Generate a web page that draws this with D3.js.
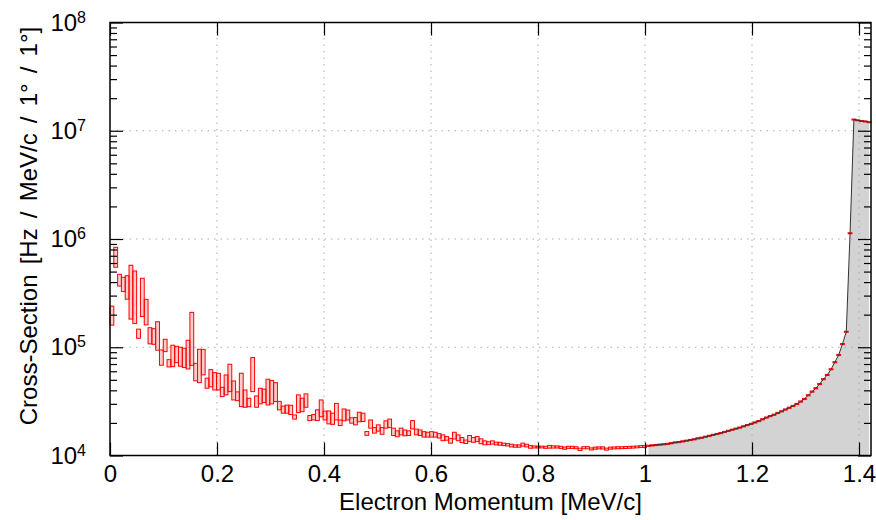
<!DOCTYPE html>
<meta charset="utf-8">
<style>
body { margin: 0; background: #fff; }
text { font-family: "Liberation Sans", sans-serif; }
</style>
<svg width="876" height="520"></svg>
<script src="https://d3js.org/d3.v7.min.js"></script>
<script>

// 200 bins from 0 to the end point of the spectrum
var pMax = 1.4224,
    binWidth = pMax / 200;

// measured cross-section per bin and its error (Hz / MeV/c / 1deg / 1deg)
var counts = [
  2.0e5, 6.93e5, 4.2e5, 3.85e5, 3.68e5, 3.77e5, 3.36e5, 1.34e5, 3.13e5, 2.19e5,
  1.295e5, 1.275e5, 1.33e5, 8.13e4, 1.048e5, 7.13e4, 8.53e4, 8.71e4, 8.34e4, 8.14e4,
  8.95e4, 1.39e5, 6.0e4, 7.15e4, 7.56e4, 4.68e4, 5.26e4, 4.93e4, 4.89e4, 3.885e4,
  4.59e4, 5.43e4, 4.07e4, 3.54e4, 4.29e4, 3.41e4, 3.10e4, 5.96e4, 3.17e4, 3.59e4,
  3.59e4, 4.0e4, 3.96e4, 3.93e4, 2.9e4, 2.66e4, 2.69e4, 2.65e4, 2.27e4, 3.06e4,
  2.96e4, 3.25e4, 2.22e4, 2.26e4, 2.37e4, 2.77e4, 2.35e4, 2.27e4, 2.2e4, 2.58e4,
  2.01e4, 2.39e4, 2.38e4, 2.11e4, 2.08e4, 2.28e4, 2.26e4, 1.6e4, 1.96e4, 1.71e4,
  1.8e4, 1.69e4, 1.94e4, 1.99e4, 1.66e4, 1.59e4, 1.67e4, 1.62e4, 1.61e4, 1.93e4,
  1.655e4, 1.625e4, 1.57e4, 1.56e4, 1.57e4, 1.56e4, 1.52e4, 1.46e4, 1.44e4, 1.37e4,
  1.53e4, 1.46e4, 1.39e4, 1.34e4, 1.44e4, 1.395e4, 1.42e4, 1.355e4, 1.31e4, 1.30e4,
  1.32e4, 1.29e4, 1.285e4, 1.267e4, 1.257e4, 1.235e4, 1.223e4, 1.223e4, 1.26e4, 1.235e4,
  1.20e4, 1.20e4, 1.197e4, 1.197e4, 1.19e4, 1.205e4, 1.20e4, 1.20e4, 1.19e4, 1.17e4,
  1.19e4, 1.19e4, 1.18e4, 1.14e4, 1.18e4, 1.18e4, 1.15e4, 1.17e4, 1.175e4, 1.175e4,
  1.145e4, 1.17e4, 1.175e4, 1.18e4, 1.18e4, 1.185e4, 1.19e4, 1.195e4, 1.20e4, 1.21e4,
  1.21e4, 1.23e4, 1.24e4, 1.25e4, 1.26e4, 1.27e4, 1.28e4, 1.30e4, 1.32e4, 1.33e4,
  1.35e4, 1.37e4, 1.39e4, 1.41e4, 1.44e4, 1.46e4, 1.49e4, 1.52e4, 1.55e4, 1.58e4,
  1.61e4, 1.65e4, 1.69e4, 1.73e4, 1.77e4, 1.81e4, 1.86e4, 1.91e4, 1.96e4, 2.02e4,
  2.08e4, 2.16e4, 2.24e4, 2.31e4, 2.38e4, 2.47e4, 2.56e4, 2.66e4, 2.76e4, 2.87e4,
  2.99e4, 3.15e4, 3.33e4, 3.60e4, 3.89e4, 4.18e4, 4.58e4, 5.07e4, 5.55e4, 6.26e4,
  7.27e4, 8.49e4, 1.07e5, 1.39e5, 1.13e6, 1.27e7, 1.25e7, 1.23e7, 1.22e7, 1.20e7
];

var errors = [
  4.0e4, 1.45e5, 5.2e4, 5.8e4, 9.0e4, 1.95e5, 1.70e5, 1.3e4, 1.21e5, 5.8e4,
  2.2e4, 2.1e4, 3.9e4, 1.31e4, 1.37e4, 5.5e3, 1.91e4, 1.50e4, 1.66e4, 1.65e4,
  2.65e4, 7.1e4, 1.1e4, 2.44e4, 2.0e4, 5.0e3, 9.5e3, 9.0e3, 8.6e3, 3.85e3,
  9.6e3, 1.54e4, 8.1e3, 3.3e3, 1.46e4, 6.2e3, 2.8e3, 2.07e4, 3.8e3, 5.9e3,
  5.1e3, 1.07e4, 9.6e3, 7.8e3, 2.6e3, 2.0e3, 2.3e3, 2.6e3, 1.0e3, 5.7e3,
  4.2e3, 4.6e3, 1.2e3, 1.3e3, 2.7e3, 4.9e3, 2.2e3, 3.1e3, 2.6e3, 4.5e3,
  1.2e3, 3.0e3, 2.5e3, 1.2e3, 1.6e3, 2.3e3, 2.0e3, 650, 1.7e3, 1.0e3,
  1.2e3, 1.2e3, 1.5e3, 1.8e3, 1.3e3, 1.0e3, 1.2e3, 1.0e3, 800, 1.7e3,
  1.0e3, 950, 900, 800, 900, 800, 700, 900, 550, 700,
  1.1e3, 900, 750, 500, 900, 700, 750, 700, 550, 400,
  450, 370, 400, 330, 310, 350, 300, 300, 400, 350,
  330, 250, 220, 220, 250, 350, 280, 260, 270, 280,
  260, 270, 250, 280, 260, 270, 250, 260, 250, 260,
  250, 250, 240, 250, 240, 240, 230, 240, 230, 230,
  230, 150, 150, 150, 150, 160, 160, 160, 160, 160,
  170, 170, 170, 170, 180, 180, 180, 190, 190, 190,
  200, 200, 210, 210, 220, 220, 230, 230, 240, 250,
  260, 270, 280, 290, 300, 310, 320, 340, 350, 370,
  390, 410, 430, 460, 490, 520, 560, 610, 660, 730,
  820, 940, 1.2e3, 1.5e3, 1.2e4, 1.2e5, 1.2e5, 1.2e5, 1.2e5, 1.2e5
];

// prediction, starting at bin 141
var theoryFirstBin = 141;
var theory = [
  1.23e4, 1.24e4, 1.25e4, 1.26e4, 1.27e4, 1.28e4, 1.30e4, 1.32e4, 1.33e4, 1.35e4,
  1.37e4, 1.39e4, 1.41e4, 1.44e4, 1.46e4, 1.49e4, 1.52e4, 1.55e4, 1.58e4, 1.61e4,
  1.65e4, 1.69e4, 1.73e4, 1.77e4, 1.81e4, 1.86e4, 1.91e4, 1.96e4, 2.02e4, 2.08e4,
  2.16e4, 2.24e4, 2.31e4, 2.38e4, 2.47e4, 2.56e4, 2.66e4, 2.76e4, 2.87e4, 2.99e4,
  3.15e4, 3.33e4, 3.60e4, 3.89e4, 4.18e4, 4.58e4, 5.07e4, 5.55e4, 6.26e4, 7.27e4,
  8.49e4, 1.07e5, 1.39e5, 1.13e6, 1.27e7, 1.25e7, 1.23e7, 1.22e7, 1.20e7
];

var xTicks = [0, 0.2, 0.4, 0.6, 0.8, 1.0, 1.2, 1.4];
var xTickLabels = ["0", "0.2", "0.4", "0.6", "0.8", "1", "1.2", "1.4"];
var yDecades = [4, 5, 6, 7, 8];

var svg = d3.select("svg"),
    plotLeft = 110, plotRight = 871, plotTop = 22.5, plotBottom = 455.5;

var x = d3.scaleLinear().domain([0, pMax]).range([plotLeft, plotRight]);
var y = d3.scaleLog().domain([1e4, 1e8]).range([plotBottom, plotTop]);

var majorY = yDecades.map(function(d) { return Math.pow(10, d); });
var minorY = [];
yDecades.slice(0, -1).forEach(function(d) {
  for (var k = 2; k < 10; k++) minorY.push(k * Math.pow(10, d));
});

// theory: filled area under the curve
var tpts = theory.map(function(v, i) {
  return { p: (theoryFirstBin + i + 0.5) * binWidth, v: v };
});

svg.append("path")
    .datum(tpts)
    .attr("fill", "#d3d3d3")
    .attr("d", d3.area()
        .x(function(d) { return x(d.p); })
        .y0(plotBottom)
        .y1(function(d) { return y(d.v); }));

// grid
var grid = svg.append("g")
    .attr("stroke", "#aaa")
    .attr("stroke-width", 1)
    .attr("stroke-dasharray", "1.5,5");

grid.selectAll("line.gx")
  .data(xTicks.slice(1))
  .enter().append("line")
    .attr("x1", function(d) { return x(d); })
    .attr("x2", function(d) { return x(d); })
    .attr("y1", plotBottom)
    .attr("y2", plotTop);

grid.selectAll("line.gy")
  .data(majorY.slice(1, -1))
  .enter().append("line")
    .attr("x1", plotLeft)
    .attr("x2", plotRight)
    .attr("y1", function(d) { return y(d); })
    .attr("y2", function(d) { return y(d); });

// data boxes: bin width x (value +- error)
svg.append("g")
  .selectAll("rect")
  .data(counts)
  .enter().append("rect")
    .attr("x", function(d, i) { return x(i * binWidth); })
    .attr("width", function(d, i) { return x((i + 1) * binWidth) - x(i * binWidth); })
    .attr("y", function(d, i) { return y(d + errors[i]); })
    .attr("height", function(d, i) { return Math.max(1, y(d - errors[i]) - y(d + errors[i])); })
    .attr("fill", "rgba(255,0,0,0.2)")
    .attr("stroke", "#f00")
    .attr("stroke-width", 1);

// theory line over the data
svg.append("path")
    .datum(tpts)
    .attr("fill", "none")
    .attr("stroke", "#333")
    .attr("stroke-width", 1)
    .attr("d", d3.line()
        .x(function(d) { return x(d.p); })
        .y(function(d) { return y(d.v); }));

// axes
function styleAxis(g) {
  g.select(".domain").remove();
  g.selectAll(".tick line").attr("stroke", "#000").attr("stroke-width", 1.2);
  g.selectAll("text").attr("font-size", 24).attr("fill", "#000");
}

svg.append("g")
    .attr("transform", "translate(0," + plotBottom + ")")
    .call(d3.axisBottom(x).tickValues(xTicks)
        .tickFormat(function(d, i) { return xTickLabels[i]; })
        .tickSize(-13).tickPadding(9.5))
    .call(styleAxis);

svg.append("g")
    .attr("transform", "translate(0," + plotTop + ")")
    .call(d3.axisTop(x).tickValues(xTicks).tickFormat("").tickSize(-13))
    .call(styleAxis);

var yLeft = svg.append("g")
    .attr("transform", "translate(" + plotLeft + ",0)")
    .call(d3.axisLeft(y).tickValues(majorY).tickFormat("").tickSize(-13).tickPadding(24))
    .call(styleAxis);

yLeft.selectAll(".tick text")
    .text("10")
  .append("tspan")
    .attr("dy", "-0.5em")
    .attr("font-size", 16)
    .text(function(d) { return Math.round(Math.log10(d)); });

svg.append("g")
    .attr("transform", "translate(" + plotLeft + ",0)")
    .call(d3.axisLeft(y).tickValues(minorY).tickFormat("").tickSize(-7))
    .call(styleAxis);

svg.append("g")
    .attr("transform", "translate(" + plotRight + ",0)")
    .call(d3.axisRight(y).tickValues(majorY).tickFormat("").tickSize(-13))
    .call(styleAxis);

svg.append("g")
    .attr("transform", "translate(" + plotRight + ",0)")
    .call(d3.axisRight(y).tickValues(minorY).tickFormat("").tickSize(-7))
    .call(styleAxis);

// frame
svg.append("rect")
    .attr("x", plotLeft)
    .attr("y", plotTop)
    .attr("width", plotRight - plotLeft)
    .attr("height", plotBottom - plotTop)
    .attr("fill", "none")
    .attr("stroke", "#000")
    .attr("stroke-width", 1.5);

// titles
svg.append("text")
    .attr("x", (plotLeft + plotRight) / 2)
    .attr("y", 510)
    .attr("text-anchor", "middle")
    .attr("font-size", 24)
    .text("Electron Momentum [MeV/c]");

svg.append("text")
    .attr("transform", "translate(37,226) rotate(-90)")
    .attr("text-anchor", "middle")
    .attr("font-size", 24)
    .attr("word-spacing", 3.5)
    .text("Cross-Section [Hz / MeV/c / 1° / 1°]");

</script>
